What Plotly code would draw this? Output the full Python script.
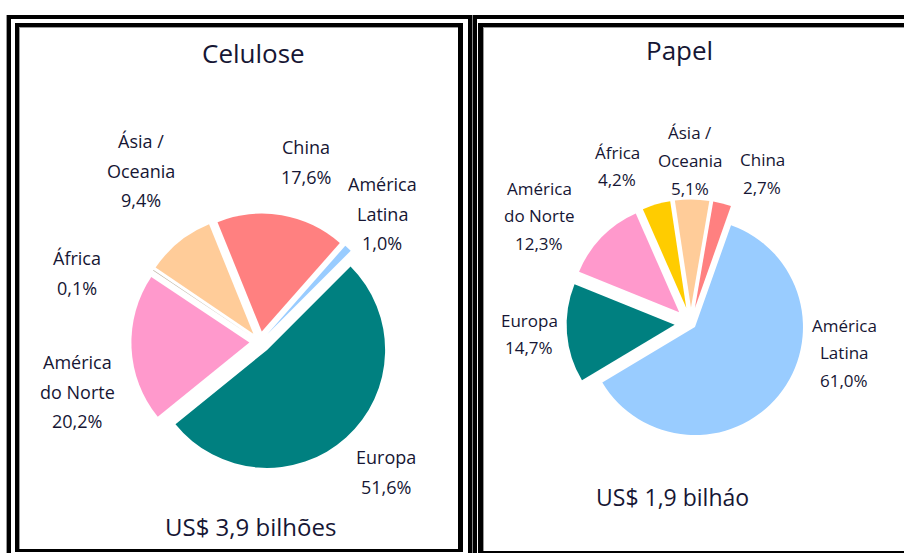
import plotly.graph_objects as go

W, H = 904, 553

# ---- data ----
cel_labels = ["Europa", "América\ndo Norte", "África", "Ásia /\nOceania", "China", "América\nLatina"]
cel_values = [51.6, 20.2, 0.1, 9.4, 17.6, 1.0]
cel_colors = ["#008080", "#ff99cc", "#b8ae9c", "#ffcc99", "#ff8080", "#99ccff"]
cel_title = "Celulose"
cel_total = "US$ 3,9 bilhões"

pap_labels = ["América\nLatina", "Europa", "América\ndo Norte", "África", "Ásia /\nOceania", "China"]
pap_values = [61.0, 14.7, 12.3, 4.2, 5.1, 2.7]
pap_colors = ["#99ccff", "#008080", "#ff99cc", "#ffcc00", "#ffcc99", "#ff8080"]
pap_title = "Papel"
pap_total = "US$ 1,9 bilháo"

# ---- layout / style constants (pixels) ----
TXT = "#161634"
FONT = "Open Sans"
cel_label_pos = [(386, 457), (77, 362), (77, 258), (141, 141), (306, 147), (382, 184)]
pap_label_pos = [(844, 325), (529, 320), (539, 188), (617, 152), (690, 133), (762, 160)]


def px(x):
    return x / W


def py(y):
    return 1 - y / H


def pie_domain(cx, cy, r, maxpull):
    half = r * (1 + maxpull)
    return dict(x=[px(cx - half), px(cx + half)], y=[py(cy + half), py(cy - half)])


cel_pull = [0.09] * len(cel_values)
pap_pull = [0.05, 0.15, 0.15, 0.15, 0.15, 0.15]

fig = go.Figure()
fig.add_trace(go.Pie(
    values=cel_values, labels=[l.replace("\n", " ") for l in cel_labels],
    marker=dict(colors=cel_colors, line=dict(width=0)),
    sort=False, direction="clockwise", rotation=45, pull=cel_pull,
    textinfo="none", showlegend=False,
    domain=pie_domain(260, 342, 118, max(cel_pull)),
))
fig.add_trace(go.Pie(
    values=pap_values, labels=[l.replace("\n", " ") for l in pap_labels],
    marker=dict(colors=pap_colors, line=dict(width=0)),
    sort=False, direction="clockwise", rotation=19.5, pull=pap_pull,
    textinfo="none", showlegend=False,
    domain=pie_domain(690.8, 323.6, 108, max(pap_pull)),
))

ann = []


def add_text(x, y, text, size):
    ann.append(dict(x=px(x), y=py(y), xref="paper", yref="paper", text=text,
                    showarrow=False, xanchor="center", yanchor="middle",
                    font=dict(family=FONT, size=size, color=TXT)))


def fmt(v):
    return f"{v:.1f}".replace(".", ",") + "%"


for lab, val, (x, y) in zip(cel_labels, cel_values, cel_label_pos):
    lines = lab.split("\n") + [fmt(val)]
    for i, t in enumerate(lines):
        add_text(x, y + i * 29.5, t, 18)

for lab, val, (x, y) in zip(pap_labels, pap_values, pap_label_pos):
    lines = lab.split("\n") + [fmt(val)]
    for i, t in enumerate(lines):
        add_text(x, y + i * 27.5, t, 17)

add_text(253, 53, cel_title, 26)
add_text(679, 50, pap_title, 26)
add_text(250, 526, cel_total, 24)
add_text(672, 497, pap_total, 23)

# ---- borders ----
shapes = []


def bar(x0, y0, x1, y1, color="black"):
    shapes.append(dict(type="rect", xref="paper", yref="paper",
                       x0=px(x0), x1=px(x1), y0=py(y1), y1=py(y0),
                       fillcolor=color, line=dict(width=0), layer="above"))


# outer frame
bar(7, 15, 904, 19)
bar(7, 15, 11, 553)
bar(468, 15, 477, 553)
bar(472, 15, 473, 553, "#888888")
# left inner frame
bar(15, 23, 463, 27)
bar(15, 23, 19, 552)
bar(458, 23, 463, 552)
bar(15, 549, 463, 552)
# right inner frame
bar(478, 23, 904, 27)
bar(478, 23, 483, 553)
bar(478, 551, 904, 553)
# thin grey inner lines
bar(19, 27, 20, 549, "#9a9a9a")
bar(19, 27, 458, 28, "#9a9a9a")
bar(483, 27, 484, 551, "#9a9a9a")
bar(483, 27, 904, 28, "#9a9a9a")
bar(6, 15, 7, 553, "#9a9a9a")

fig.update_layout(
    width=W, height=H, margin=dict(l=0, r=0, t=0, b=0),
    paper_bgcolor="white", plot_bgcolor="white",
    annotations=ann, shapes=shapes,
)

fig.write_html("out.html", config={"displayModeBar": False},
               post_script="document.body.style.margin='0';document.body.style.overflow='hidden';")
